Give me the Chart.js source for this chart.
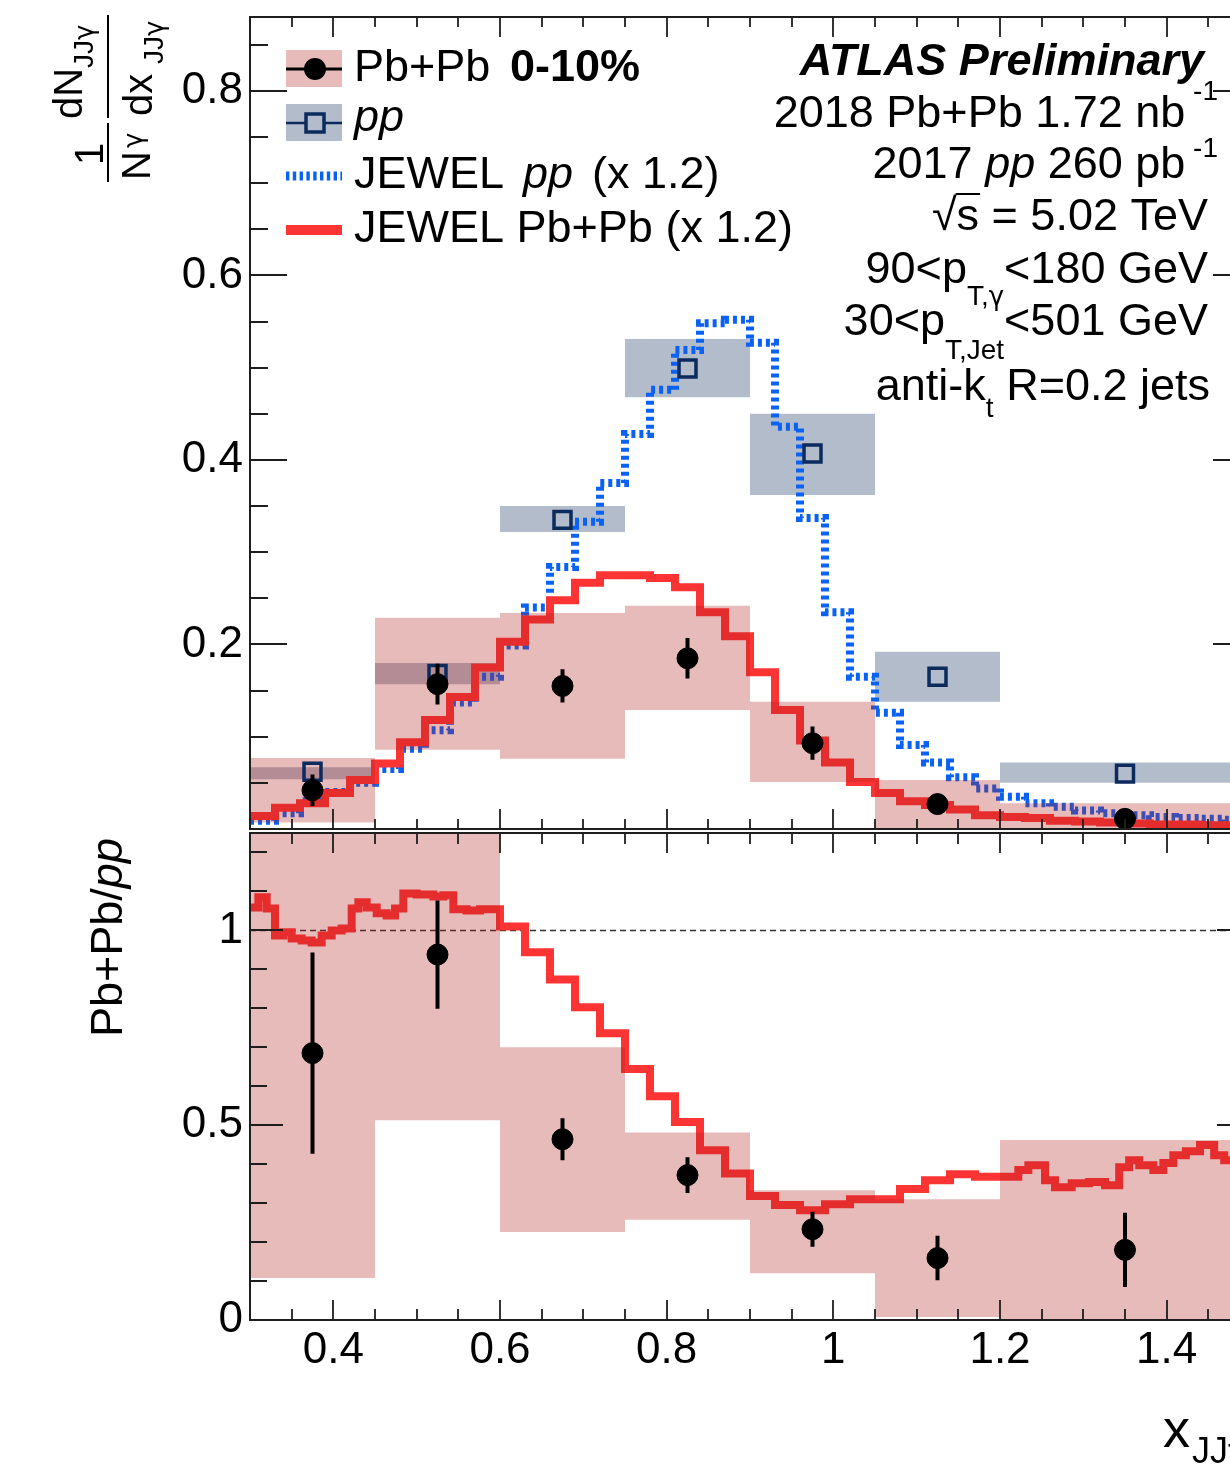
<!DOCTYPE html>
<html>
<head>
<meta charset="utf-8">
<script src="https://cdn.jsdelivr.net/npm/chart.js"></script>
<style>
  html, body { margin: 0; padding: 0; background: #fff; overflow: hidden; }
  #wrap { position: relative; width: 1230px; height: 1470px; overflow: hidden; }
  canvas { position: absolute; left: 0; }
</style>
</head>
<body>
<div id="wrap">
  <canvas id="topchart" width="1260" height="832" style="top:0"></canvas>
  <canvas id="ratiochart" width="1260" height="638" style="top:832px"></canvas>
</div>
<script>
// measured bins (x_JJgamma)
var binEdges = [0.3, 0.45, 0.6, 0.75, 0.9, 1.05, 1.2, 1.5];
var binCenters = [0.375, 0.525, 0.675, 0.825, 0.975, 1.125, 1.35];

// Pb+Pb 0-10%
var pbpbVals = [0.042, 0.157, 0.155, 0.185, 0.093, 0.027, 0.011];
var pbpbStat = [0.017, 0.022, 0.018, 0.022, 0.018, 0.008, 0.006];
var pbpbSysLo = [0.007, 0.086, 0.076, 0.129, 0.051, 0.0, 0.0];
var pbpbSysHi = [0.077, 0.229, 0.234, 0.242, 0.138, 0.053, 0.028];

// pp
var ppVals = [0.062, 0.168, 0.335, 0.499, 0.407, 0.165, 0.060];
var ppSysLo = [0.054, 0.157, 0.322, 0.468, 0.362, 0.138, 0.050];
var ppSysHi = [0.067, 0.180, 0.350, 0.531, 0.450, 0.192, 0.072];

// JEWEL histograms (x 1.2), bins of 0.03 from 0.3
var jewelStart = 0.3, jewelWidth = 0.03;
var jewelPP = [0.009, 0.017, 0.030, 0.040, 0.050, 0.065, 0.087, 0.107, 0.137, 0.165,
               0.199, 0.240, 0.284, 0.333, 0.375, 0.428, 0.476, 0.519, 0.548, 0.552,
               0.527, 0.436, 0.337, 0.235, 0.165, 0.126, 0.091, 0.072, 0.056, 0.044,
               0.035, 0.028, 0.024, 0.020, 0.017, 0.015, 0.013, 0.012, 0.011, 0.010];
var jewelPbPb = [0.014, 0.023, 0.028, 0.039, 0.053, 0.071, 0.094, 0.118, 0.143, 0.175,
                 0.203, 0.227, 0.248, 0.267, 0.275, 0.275, 0.272, 0.262, 0.235, 0.209,
                 0.170, 0.129, 0.096, 0.072, 0.051, 0.039, 0.030, 0.026, 0.021, 0.015,
                 0.013, 0.012, 0.009, 0.008, 0.007, 0.006, 0.005, 0.005, 0.004, 0.004];

// ratio Pb+Pb / pp
var ratioVals = [0.685, 0.938, 0.464, 0.372, 0.233, 0.159, 0.180];
var ratioStat = [0.258, 0.139, 0.054, 0.046, 0.045, 0.057, 0.095];
var ratioSysLo = [0.108, 0.513, 0.226, 0.257, 0.120, 0.008, 0.0];
var ratioSysHi = [1.25, 1.25, 0.700, 0.481, 0.333, 0.310, 0.462];

// JEWEL ratio (variable bins)
var jewelRatioEdges = [0.30, 0.31, 0.32, 0.33, 0.34, 0.35, 0.362, 0.374, 0.386, 0.398,
  0.41, 0.422, 0.43, 0.44, 0.452, 0.464, 0.474, 0.484, 0.50, 0.52, 0.532, 0.544, 0.56,
  0.576, 0.60, 0.63, 0.66, 0.69, 0.72, 0.75, 0.78, 0.81, 0.84, 0.87, 0.90, 0.93, 0.96,
  0.99, 1.02, 1.05, 1.08, 1.11, 1.14, 1.17, 1.222, 1.234, 1.254, 1.266, 1.286, 1.307,
  1.326, 1.343, 1.355, 1.367, 1.384, 1.396, 1.408, 1.423, 1.44, 1.457, 1.469, 1.5];
var jewelRatio = [1.059, 1.085, 1.056, 0.987, 0.995, 0.979, 0.974, 0.969, 0.987, 1.000,
  1.005, 1.056, 1.072, 1.059, 1.044, 1.038, 1.056, 1.095, 1.092, 1.087, 1.090, 1.054,
  1.051, 1.054, 1.010, 0.944, 0.874, 0.803, 0.736, 0.644, 0.574, 0.508, 0.436, 0.376,
  0.318, 0.295, 0.282, 0.297, 0.310, 0.310, 0.336, 0.359, 0.374, 0.368, 0.385, 0.397,
  0.359, 0.341, 0.351, 0.354, 0.346, 0.392, 0.410, 0.397, 0.385, 0.403, 0.423, 0.433,
  0.449, 0.423, 0.410];
var unityLine = [1];

// axis ticks
var xTicks = [0.4, 0.6, 0.8, 1, 1.2, 1.4];
var xTickLabels = ['0.4', '0.6', '0.8', '1', '1.2', '1.4'];
var topYTicks = [0.2, 0.4, 0.6, 0.8];
var topYLabels = ['0.2', '0.4', '0.6', '0.8'];
var ratioYTicks = [0, 0.5, 1];
var ratioYLabels = ['0', '0.5', '1'];

var FONT = '"Liberation Sans", Arial, Helvetica, sans-serif';
var GFONT = '"DejaVu Sans", "Liberation Sans", sans-serif';
var RED = '#fd3434';
var BLUE = '#0a62f5';
var NAVY = '#0b2a5e';
var PINK = 'rgba(180, 30, 30, 0.3)';
var GREY = '#b3bccb';
var TXT = 45;

function fnt(size, style, fam) { return (style || '') + ' ' + size + 'px ' + (fam || FONT); }

// helpers that turn the arrays into point lists for Chart.js
function jewelEdges(n) {
  var e = [];
  for (var i = 0; i <= n; i++) e.push(+(jewelStart + jewelWidth * i).toFixed(3));
  return e;
}
function stepPoints(edges, vals) {
  var pts = vals.map(function (v, i) { return {x: edges[i], y: v}; });
  pts.push({x: edges[edges.length - 1], y: vals[vals.length - 1]});
  return pts;
}
function markerPoints(xs, ys) {
  return xs.map(function (x, i) { return {x: x, y: ys[i]}; });
}
function errorPoints(xs, ys, es) {
  var pts = [];
  xs.forEach(function (x, i) {
    pts.push({x: x, y: ys[i] - es[i]}, {x: x, y: ys[i] + es[i]}, {x: x, y: null});
  });
  return pts;
}
function bandHi(vals, color, order) {
  return {data: stepPoints(binEdges, vals), stepped: 'before', borderWidth: 0, borderColor: 'transparent',
          pointRadius: 0, fill: '+1', backgroundColor: color, order: order, clip: 0};
}
function bandLo(vals, order) {
  return {data: stepPoints(binEdges, vals), stepped: 'before', borderWidth: 0, borderColor: 'transparent',
          pointRadius: 0, fill: false, order: order, clip: 0};
}

// parts: [text, size, style, dy, family]
function drawParts(ctx, parts, x, y, align) {
  var w = parts.map(function (p) { ctx.font = fnt(p[1], p[2], p[4]); return ctx.measureText(p[0]).width; });
  var total = w.reduce(function (s, v) { return s + v; }, 0);
  var cx = align === 'right' ? x - total : x;
  var starts = [];
  ctx.textAlign = 'left';
  ctx.textBaseline = 'alphabetic';
  parts.forEach(function (p, i) {
    ctx.font = fnt(p[1], p[2], p[4]);
    ctx.fillText(p[0], cx, y + (p[3] || 0));
    starts.push(cx);
    cx += w[i];
  });
  return {starts: starts, w: w};
}
// rotated (reading upward) text: baseline at canvas x, text starts at canvas y
function rotText(ctx, s, xBase, yStart, size, fam) {
  ctx.save();
  ctx.rotate(-Math.PI / 2);
  ctx.font = fnt(size, '', fam);
  ctx.textAlign = 'left';
  ctx.textBaseline = 'alphabetic';
  ctx.fillText(s, -yStart, xBase);
  ctx.restore();
}

// ROOT style frame with inward ticks on all four sides
var frameTicks = {
  id: 'frameTicks',
  afterDatasetsDraw: function (chart, args, o) {
    var ctx = chart.ctx, a = chart.chartArea, sx = chart.scales.x, sy = chart.scales.y;
    ctx.save();
    ctx.strokeStyle = '#1e1e1e';
    ctx.lineWidth = 1.8;
    ctx.beginPath();
    var i, v, p, len;
    for (i = 0; ; i++) {
      v = sx.min + i * o.xStep;
      if (v > sx.max + 1e-9) break;
      p = Math.round(sx.getPixelForValue(v));
      len = Math.abs(v / o.xMajor - Math.round(v / o.xMajor)) < 1e-6 ? o.xLen[0] : o.xLen[1];
      ctx.moveTo(p, a.bottom); ctx.lineTo(p, a.bottom - len);
      ctx.moveTo(p, a.top); ctx.lineTo(p, a.top + len);
    }
    for (i = 0; ; i++) {
      v = sy.min + i * o.yStep;
      if (v > sy.max + 1e-9) break;
      p = Math.round(sy.getPixelForValue(v));
      len = Math.abs(v / o.yMajor - Math.round(v / o.yMajor)) < 1e-6 ? o.yLen[0] : o.yLen[1];
      ctx.moveTo(a.left, p); ctx.lineTo(a.left + len, p);
      ctx.moveTo(a.right, p); ctx.lineTo(a.right - len, p);
    }
    ctx.stroke();
    ctx.lineWidth = 2;
    ctx.strokeRect(a.left, a.top, a.right - a.left, a.bottom - a.top);
    ctx.restore();
  }
};

// legend, labels and y title of the upper panel
var topText = {
  id: 'topText',
  afterDraw: function (chart) {
    var ctx = chart.ctx;
    ctx.save();

    // legend glyphs
    ctx.fillStyle = PINK;
    ctx.fillRect(286, 50, 56, 37);
    ctx.fillStyle = GREY;
    ctx.fillRect(286, 104, 56, 37);
    ctx.strokeStyle = '#000'; ctx.lineWidth = 3;
    ctx.beginPath(); ctx.moveTo(286, 69); ctx.lineTo(342, 69); ctx.stroke();
    ctx.fillStyle = '#000';
    ctx.beginPath(); ctx.arc(315, 69, 11, 0, Math.PI * 2); ctx.fill();
    ctx.strokeStyle = NAVY; ctx.lineWidth = 2.5;
    ctx.beginPath(); ctx.moveTo(286, 123); ctx.lineTo(342, 123); ctx.stroke();
    ctx.lineWidth = 3.5;
    ctx.fillStyle = GREY;
    ctx.fillRect(306, 114, 18, 18);
    ctx.strokeRect(306, 114, 18, 18);
    ctx.strokeStyle = BLUE; ctx.lineWidth = 9; ctx.setLineDash([3.4, 3.4]);
    ctx.beginPath(); ctx.moveTo(286, 176); ctx.lineTo(342, 176); ctx.stroke();
    ctx.setLineDash([]);
    ctx.strokeStyle = RED; ctx.lineWidth = 10;
    ctx.beginPath(); ctx.moveTo(286, 230); ctx.lineTo(342, 230); ctx.stroke();

    // legend text
    ctx.fillStyle = '#000';
    drawParts(ctx, [['Pb+Pb', TXT]], 354, 81, 'left');
    drawParts(ctx, [['0-10%', TXT, 'bold']], 510, 81, 'left');
    drawParts(ctx, [['pp', TXT, 'italic']], 354, 131, 'left');
    drawParts(ctx, [['JEWEL', TXT]], 354, 188, 'left');
    drawParts(ctx, [['pp', TXT, 'italic']], 523, 188, 'left');
    drawParts(ctx, [['(x 1.2)', TXT]], 592, 188, 'left');
    drawParts(ctx, [['JEWEL Pb+Pb (x 1.2)', TXT]], 354, 242, 'left');

    // ATLAS labels
    drawParts(ctx, [['ATLAS Preliminary', TXT, 'italic bold']], 1204, 75, 'right');
    drawParts(ctx, [['2018 Pb+Pb 1.72 nb', TXT], [' -1', 28, '', -27]], 1218, 127, 'right');
    drawParts(ctx, [['2017 ', TXT], ['pp', TXT, 'italic'], [' 260 pb', TXT], [' -1', 28, '', -21]], 1218, 178, 'right');
    var r = drawParts(ctx, [['\u221A', TXT], ['s', TXT], [' = 5.02 TeV', TXT]], 1208, 230, 'right');
    ctx.strokeStyle = '#000'; ctx.lineWidth = 2;
    ctx.beginPath(); ctx.moveTo(r.starts[1] - 1, 194); ctx.lineTo(r.starts[1] + r.w[1] + 1, 194); ctx.stroke();
    drawParts(ctx, [['90<p', TXT], ['T,', 28, '', 22], ['\u03B3', 26, '', 22, GFONT], ['<180 GeV', TXT]], 1208, 283, 'right');
    drawParts(ctx, [['30<p', TXT], ['T,Jet', 28, '', 24], ['<501 GeV', TXT]], 1208, 335, 'right');
    drawParts(ctx, [['anti-k', TXT], ['t', 28, '', 17], [' R=0.2 jets', TXT]], 1210, 400, 'right');

    // y title: 1/N_gamma dN/dx
    rotText(ctx, '1', 103, 165, 40);
    rotText(ctx, 'N', 150, 180, 40);
    rotText(ctx, '\u03B3', 142, 148, 26, GFONT);
    rotText(ctx, 'dN', 82, 119, 40);
    rotText(ctx, 'JJ', 93, 68, 28);
    rotText(ctx, '\u03B3', 93, 40, 26, GFONT);
    rotText(ctx, 'dx', 152, 116, 40);
    rotText(ctx, 'JJ', 163, 64, 28);
    rotText(ctx, '\u03B3', 163, 36, 26, GFONT);
    ctx.strokeStyle = '#000'; ctx.lineWidth = 2;
    ctx.beginPath();
    ctx.moveTo(108, 123); ctx.lineTo(108, 182);
    ctx.moveTo(108, 15); ctx.lineTo(108, 118);
    ctx.stroke();
    ctx.restore();
  }
};

var ratioText = {
  id: 'ratioText',
  afterDraw: function (chart) {
    var ctx = chart.ctx;
    ctx.save();
    ctx.fillStyle = '#000';
    // y title Pb+Pb/pp
    ctx.save();
    ctx.rotate(-Math.PI / 2);
    ctx.translate(-205, 122);
    drawParts(ctx, [['Pb+Pb/', 45], ['pp', 45, 'italic']], 0, 0, 'left');
    ctx.restore();
    // x title
    drawParts(ctx, [['x', 54]], 1163, 615, 'left');
    drawParts(ctx, [['JJ', 36], ['\u03B3', 34, '', 0, GFONT]], 1192, 631, 'left');
    ctx.restore();
  }
};

function yAxis(min, max, ticks, labels) {
  return {
    min: min, max: max,
    afterBuildTicks: function (s) { s.ticks = ticks.map(function (v) { return {value: v}; }); },
    afterFit: function (s) { s.width = 250; s.paddingTop = 0; s.paddingBottom = 0; },
    grid: {display: false, drawTicks: false},
    border: {display: false},
    ticks: {font: {family: FONT, size: 44}, color: '#000', padding: 7,
            callback: function (v, i) { return labels[i]; }}
  };
}

var edges = jewelEdges(jewelPP.length);

var chart1 = new Chart(document.getElementById('topchart'), {
  type: 'line',
  data: {
    datasets: [
      {data: markerPoints(binCenters, pbpbVals), showLine: false, pointStyle: 'circle', pointRadius: 10.5,
       pointBackgroundColor: '#000', pointBorderColor: '#000', pointBorderWidth: 1, order: 0},
      {data: errorPoints(binCenters, pbpbVals, pbpbStat), borderColor: '#000', borderWidth: 4,
       pointRadius: 0, spanGaps: false, order: 1},
      {data: markerPoints(binCenters, ppVals), showLine: false, pointStyle: 'rect', pointRadius: 12,
       pointBackgroundColor: 'rgba(0,0,0,0)', pointBorderColor: NAVY, pointBorderWidth: 3.5, order: 2},
      bandHi(pbpbSysHi, PINK, 3),
      bandLo(pbpbSysLo, 3),
      {data: stepPoints(edges, jewelPbPb), stepped: 'before', borderColor: RED, borderWidth: 8,
       pointRadius: 0, fill: false, order: 4},
      {data: stepPoints(edges, jewelPP), stepped: 'before', borderColor: BLUE, borderWidth: 8,
       borderDash: [4, 4], pointRadius: 0, fill: false, order: 5},
      bandHi(ppSysHi, GREY, 6),
      bandLo(ppSysLo, 6)
    ]
  },
  options: {
    responsive: false,
    animation: false,
    devicePixelRatio: 1,
    layout: {autoPadding: false, padding: {left: 0, right: 10, top: 17, bottom: 3}},
    plugins: {
      legend: {display: false},
      tooltip: {enabled: false},
      frameTicks: {xStep: 0.05, xMajor: 0.2, xLen: [20, 10], yStep: 0.05, yMajor: 0.2, yLen: [37, 18]}
    },
    scales: {
      x: {type: 'linear', min: 0.3, max: 1.5, display: false},
      y: yAxis(0, 0.88, topYTicks, topYLabels)
    }
  },
  plugins: [frameTicks, topText]
});

var chart2 = new Chart(document.getElementById('ratiochart'), {
  type: 'line',
  data: {
    datasets: [
      {data: markerPoints(binCenters, ratioVals), showLine: false, pointStyle: 'circle', pointRadius: 10.5,
       pointBackgroundColor: '#000', pointBorderColor: '#000', pointBorderWidth: 1, order: 0},
      {data: errorPoints(binCenters, ratioVals, ratioStat), borderColor: '#000', borderWidth: 4,
       pointRadius: 0, spanGaps: false, order: 1},
      bandHi(ratioSysHi, PINK, 2),
      bandLo(ratioSysLo, 2),
      {data: stepPoints(jewelRatioEdges, jewelRatio), stepped: 'before', borderColor: RED, borderWidth: 8,
       pointRadius: 0, fill: false, order: 3},
      {data: [{x: binEdges[0], y: unityLine[0]}, {x: binEdges[binEdges.length - 1], y: unityLine[0]}],
       borderColor: '#333', borderWidth: 1.5, borderDash: [6, 4], pointRadius: 0, fill: false, order: 4}
    ]
  },
  options: {
    responsive: false,
    animation: false,
    devicePixelRatio: 1,
    layout: {autoPadding: false, padding: {left: 0, right: 10, top: 1, bottom: 0}},
    plugins: {
      legend: {display: false},
      tooltip: {enabled: false},
      frameTicks: {xStep: 0.05, xMajor: 0.2, xLen: [20, 11], yStep: 0.1, yMajor: 0.5, yLen: [33, 17]}
    },
    scales: {
      x: {
        type: 'linear', min: 0.3, max: 1.5,
        afterBuildTicks: function (s) { s.ticks = xTicks.map(function (v) { return {value: v}; }); },
        afterFit: function (s) { s.height = 150; s.paddingLeft = 0; s.paddingRight = 0; },
        grid: {display: false, drawTicks: false},
        border: {display: false},
        ticks: {font: {family: FONT, size: 44}, color: '#000', padding: 4, maxRotation: 0, autoSkip: false,
                callback: function (v, i) { return xTickLabels[i]; }}
      },
      y: yAxis(0, 1.25, ratioYTicks, ratioYLabels)
    }
  },
  plugins: [frameTicks, ratioText]
});
</script>
</body>
</html>
